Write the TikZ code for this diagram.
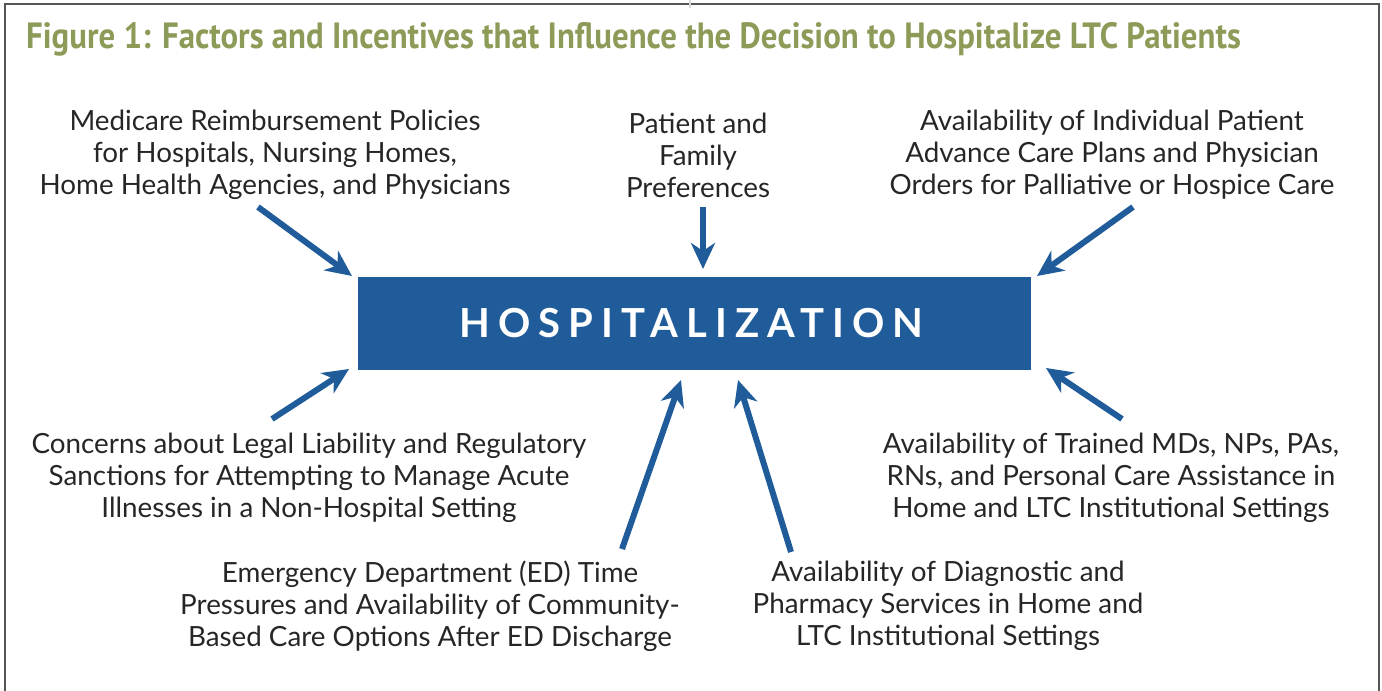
\documentclass[tikz,border=0pt]{standalone}
\usepackage{fontspec}
\setmainfont{Lato}
\newfontfamily\titlefont[FakeStretch=0.9]{PT Sans}
\newfontfamily\boxfont[LetterSpace=20]{Lato}
\usetikzlibrary{arrows.meta}
\definecolor{olive}{HTML}{8C9B57}
\definecolor{hblue}{HTML}{1F5C99}
\definecolor{frame}{HTML}{555555}
\begin{document}
\begin{tikzpicture}[x=1pt,y=-1pt,
  lbl/.style={align=center,font=\fontsize{27.8}{32}\selectfont,text=black!85,inner sep=0pt,anchor=center},
  arr/.style={draw=hblue,line width=6pt,-{Stealth[length=26pt,width=24pt,inset=8pt]}}]
\useasboundingbox (0,0) rectangle (1382,691);
\draw[frame,line width=2pt] (5,691) -- (5,4) -- (1379,4) -- (1379,691);
\draw[black!15,line width=1.5pt] (690,0) -- (690,8);
\node[anchor=base west,inner sep=0pt,text=olive,font=\titlefont\bfseries\fontsize{36.5}{40}\selectfont] (title) at (26,48) {Figure 1: Factors and Incentives that Influence the Decision to Hospitalize LTC Patients};
\node[fill=hblue,minimum width=673pt,minimum height=93pt,inner sep=0pt,text=white,font=\boxfont\bfseries\fontsize{40}{40}\selectfont] (hosp) at (694.5,323.5) {\hspace*{-6pt}HOSPITALIZATION};
\node[lbl] (t1) at (275,155) {Medicare Reimbursement Policies\\for Hospitals, Nursing Homes,\\Home Health Agencies, and Physicians};
\node[lbl] (t2) at (698,155) {Patient and\\Family\\Preferences};
\node[lbl] (t3) at (1112,155) {Availability of Individual Patient\\Advance Care Plans and Physician\\Orders for Palliative or Hospice Care};
\node[lbl] (t4) at (309,478) {Concerns about Legal Liability and Regulatory\\Sanctions for Attempting to Manage Acute\\Illnesses in a Non-Hospital Setting};
\node[lbl] (t5) at (1111,478) {Availability of Trained MDs, NPs, PAs,\\RNs, and Personal Care Assistance in\\Home and LTC Institutional Settings};
\node[lbl] (t6) at (430,606) {Emergency Department (ED) Time\\Pressures and Availability of Community-\\Based Care Options After ED Discharge};
\node[lbl] (t7) at (948,606) {Availability of Diagnostic and\\Pharmacy Services in Home and\\LTC Institutional Settings};
\coordinate (a1s) at (258,207); \coordinate (a1e) at (352,276);
\coordinate (a2s) at (703,207); \coordinate (a2e) at (703,269);
\coordinate (a3s) at (1133,207); \coordinate (a3e) at (1037,276);
\coordinate (a4s) at (272,419); \coordinate (a4e) at (349,369);
\coordinate (a5s) at (1122,419); \coordinate (a5e) at (1046,368);
\coordinate (a6s) at (622,549); \coordinate (a6e) at (681,380);
\coordinate (a7s) at (791,552); \coordinate (a7e) at (738,380);
\draw[arr] (a1s) -- (a1e);
\draw[arr] (a2s) -- (a2e);
\draw[arr] (a3s) -- (a3e);
\draw[arr] (a4s) -- (a4e);
\draw[arr] (a5s) -- (a5e);
\draw[arr] (a6s) -- (a6e);
\draw[arr] (a7s) -- (a7e);
\end{tikzpicture}
\end{document}
